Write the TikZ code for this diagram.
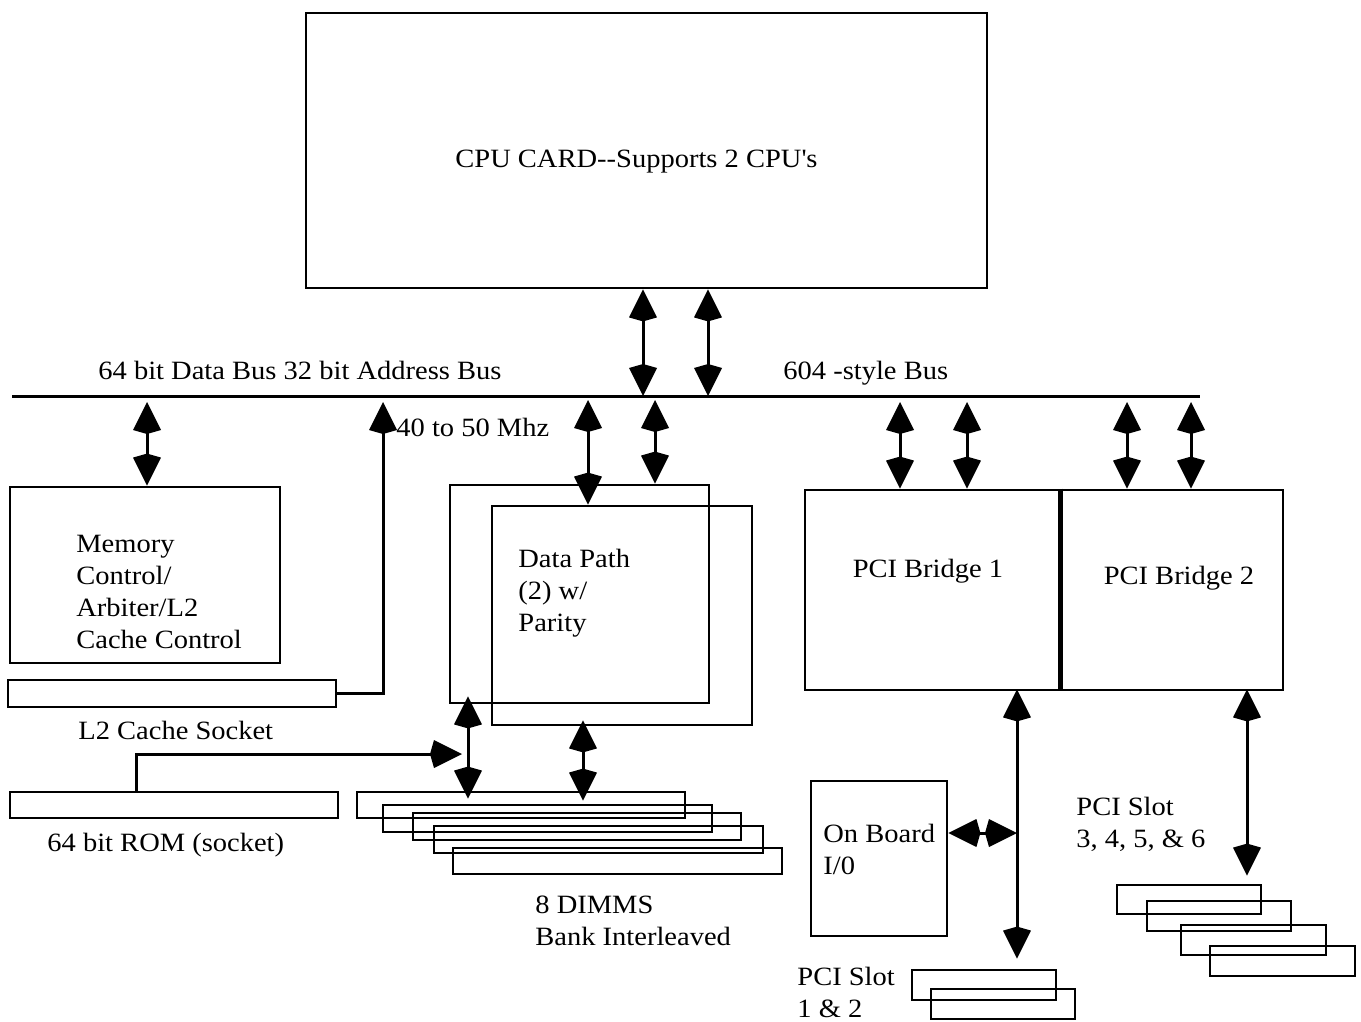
\documentclass[tikz,border=0pt]{standalone}
\usepackage{fontspec}
\setmainfont{Liberation Serif}[FakeStretch=1.08]
\usetikzlibrary{arrows.meta,fit}
\newcommand\lblfont{\fontsize{13.2}{16}\selectfont}
\begin{document}
\begin{tikzpicture}[x=0.5pt,y=-0.5pt,
  >={Kite[length=16pt,width=14pt,inset=2pt]},
  box/.style={draw, line width=1.4pt, inner sep=0pt},
  busline/.style={line width=1.5pt},
  biarrow/.style={line width=1.5pt, <->},
  onearrow/.style={line width=1.5pt, ->},
  lbl/.style={inner sep=0pt, font=\lblfont, align=left}]
\useasboundingbox (0,0) rectangle (1361,1022);

% column / helper coordinates
\foreach \c in {136,147,383,468,583,588,643,655,708,900,967,1017,1127,1191,1247}
  {\coordinate (c\c) at (\c,0);}

% CPU card
\node[box, fit={(306,13)(987,288)}] (cpu) {};
\node[lbl, anchor=base west] (cputxt) at (455,168) {CPU CARD{-}{-}Supports 2 CPU\textquotesingle s};

% bus
\coordinate (busL) at (12,396);
\coordinate (busR) at (1200,396);
\draw[busline] (busL) -- (busR);
\node[lbl, anchor=base west] (buslbl1) at (98,379) {64 bit Data Bus 32 bit Address Bus};
\node[lbl, anchor=base west] (buslbl2) at (783,379) {604 -style Bus};
\node[lbl, anchor=base west] (mhz) at (396,436) {40 to 50 Mhz};

\draw[biarrow] (cpu.south -| c643) -- (busL -| c643);
\draw[biarrow] (cpu.south -| c708) -- (busL -| c708);

% memory control
\node[box, fit={(10,487)(280,663)}] (mem) {};
\node[lbl, anchor=north west] (memtxt) at (76,535) {Memory\\Control/\\Arbiter/L2\\Cache Control};
\draw[biarrow, shorten <=3pt] (busL -| c147) -- (mem.north -| c147);

% L2 cache socket
\node[box, fit={(8,680)(336,707)}] (l2) {};
\node[lbl, anchor=base west] (l2txt) at (78,739) {L2 Cache Socket};
\draw[onearrow, shorten >=3pt] (l2.east) -| (busL -| c383);

% data path
\node[box, fit={(450,485)(709,703)}] (dpback) {};
\node[box, fit={(492,506)(752,725)}] (dp) {};
\node[lbl, anchor=north west] (dptxt) at (518,549) {Data Path\\(2) w/\\Parity};
\draw[biarrow, shorten <=2pt] (busL -| c588) -- (dp.north -| c588);
\draw[biarrow, shorten <=2pt] (busL -| c655) -- (dpback.north -| c655);

% DIMMs
\node[box, fit={(357,792)(685,818)}] (d1) {};
\node[box, fit={(383,805)(712,832)}] (d2) {};
\node[box, fit={(413,813)(741,840)}] (d3) {};
\node[box, fit={(434,826)(763,853)}] (d4) {};
\node[box, fit={(453,848)(782,874)}] (d5) {};
\node[lbl, anchor=north west] (dimmtxt) at (535,896) {8 DIMMS\\Bank Interleaved};
\draw[biarrow, shorten <=-4pt, shorten >=-4pt] (dpback.south -| c468) -- (d1.north -| c468);
\draw[biarrow, shorten <=-3pt, shorten >=-5pt] (dp.south -| c583) -- (d1.north -| c583);

% ROM
\node[box, fit={(10,792)(338,818)}] (rom) {};
\node[lbl, anchor=base west] (romtxt) at (47,851) {64 bit ROM (socket)};
\coordinate (romj) at (468,754);
\draw[onearrow, shorten >=3pt] (rom.north -| c136) |- (romj);

% PCI bridges
\node[box, fit={(805,490)(1059,690)}] (b1) {};
\node[box, fit={(1059,490)(1283,690)}] (b2) {};
\draw[line width=2.5pt] (b1.north east) -- (b1.south east);
\node[lbl, anchor=base] (b1txt) at (928,577) {PCI Bridge 1};
\node[lbl, anchor=base] (b2txt) at (1179,584) {PCI Bridge 2};
\draw[biarrow, shorten <=3pt] (busL -| c900) -- (b1.north -| c900);
\draw[biarrow, shorten <=3pt] (busL -| c967) -- (b1.north -| c967);
\draw[biarrow, shorten <=3pt] (busL -| c1127) -- (b2.north -| c1127);
\draw[biarrow, shorten <=3pt] (busL -| c1191) -- (b2.north -| c1191);

% on board I/O and PCI slots 1 & 2
\node[box, fit={(811,781)(947,936)}] (ob) {};
\node[lbl, anchor=north west] (obtxt) at (823,824) {On Board\\I/0};
\node[box, fit={(912,970)(1056,1000)}] (s1) {};
\node[box, fit={(931,989)(1075,1019)}] (s2) {};
\node[lbl, anchor=north west] (s12txt) at (797,967) {PCI Slot\\1 \& 2};
\draw[biarrow, shorten <=-1pt, shorten >=5pt] (b1.south -| c1017) -- (s1.north -| c1017);
\coordinate (obj) at (1017,833);
\draw[biarrow] (ob.east |- obj) -- (obj);

% PCI slots 3-6
\node[box, fit={(1117,885)(1261,914)}] (t1) {};
\node[box, fit={(1147,901)(1291,931)}] (t2) {};
\node[box, fit={(1181,925)(1326,955)}] (t3) {};
\node[box, fit={(1210,946)(1355,976)}] (t4) {};
\node[lbl, anchor=north west] (t36txt) at (1076,797) {PCI Slot\\3, 4, 5, \& 6};
\draw[biarrow, shorten <=-1pt, shorten >=4pt] (b2.south -| c1247) -- (t1.north -| c1247);
\end{tikzpicture}
\end{document}
